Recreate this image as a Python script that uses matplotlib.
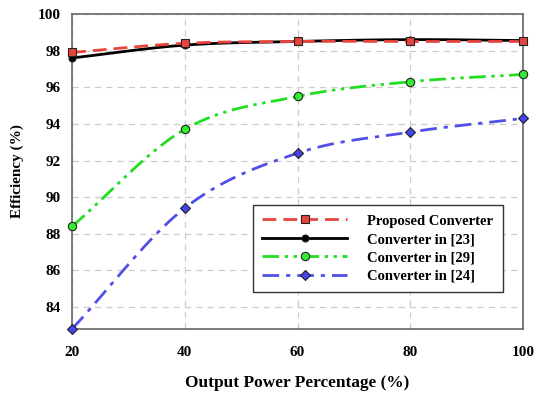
import numpy as np
import matplotlib
matplotlib.use("Agg")
import matplotlib.pyplot as plt
from matplotlib.lines import Line2D

power_pct = [20, 40, 60, 80, 100]
proposed = [97.9, 98.4, 98.5, 98.5, 98.5]
conv_23 = [97.6, 98.3, 98.5, 98.6, 98.55]
conv_29 = [88.4, 93.7, 95.5, 96.3, 96.7]
conv_24 = [82.8, 89.4, 92.4, 93.55, 94.3]

series_labels = ["Proposed Converter", "Converter in [23]",
                 "Converter in [29]", "Converter in [24]"]

plt.rcParams["font.family"] = ["Liberation Serif", "DejaVu Serif"]
plt.rcParams["font.weight"] = "bold"


def smooth_path(x, y, n=30):
    """Catmull-Rom curve through the given points (smoothed line style)."""
    x = np.asarray(x, float)
    y = np.asarray(y, float)
    px = np.concatenate([[2 * x[0] - x[1]], x, [2 * x[-1] - x[-2]]])
    py = np.concatenate([[2 * y[0] - y[1]], y, [2 * y[-1] - y[-2]]])
    xs, ys = [], []
    t = np.linspace(0, 1, n, endpoint=False)
    for i in range(1, len(px) - 2):
        p0x, p1x, p2x, p3x = px[i - 1:i + 3]
        p0y, p1y, p2y, p3y = py[i - 1:i + 3]
        for arr, a, b, c, d in ((xs, p0x, p1x, p2x, p3x), (ys, p0y, p1y, p2y, p3y)):
            arr.extend(0.5 * ((2 * b) + (-a + c) * t
                              + (2 * a - 5 * b + 4 * c - d) * t ** 2
                              + (-a + 3 * b - 3 * c + d) * t ** 3))
    xs.append(x[-1])
    ys.append(y[-1])
    return np.array(xs), np.array(ys)


fig = plt.figure(figsize=(5.35, 3.94), dpi=100)
ax = fig.add_axes([0.1346, 0.165, 0.843, 0.7995])

styles = [
    dict(color="#e8443f", ls=(0, (5, 2.5)), marker="s", mfc="#e8443f", ms=5.5, z=6),
    dict(color="#000000", ls="-", marker="o", mfc="#000000", ms=5, z=4),
    dict(color="#22dd22", ls=(0, (6, 2, 1.2, 2, 1.2, 2)), marker="o", mfc="#33ee33", ms=6, z=3),
    dict(color="#5050e6", ls=(0, (6, 2.5, 1.5, 2.5)), marker="D", mfc="#4444ee", ms=5, z=3),
]

handles = []
for vals, st, lab in zip([proposed, conv_23, conv_29, conv_24], styles, series_labels):
    sx, sy = smooth_path(power_pct, vals)
    ax.plot(sx, sy, color=st["color"], ls=st["ls"], lw=2.0, zorder=st["z"], clip_on=False)
    ax.plot(power_pct, vals, ls="none", marker=st["marker"], ms=st["ms"],
            mfc=st["mfc"], mec="#222222", mew=0.8, zorder=st["z"] + 0.5, clip_on=False)
    handles.append(Line2D([], [], color=st["color"], ls=st["ls"], lw=2.0,
                          marker=st["marker"], ms=st["ms"], mfc=st["mfc"],
                          mec="#222222", mew=0.8))

ax.set_xlim(20, 100)
ax.set_ylim(82.8, 100)
ax.set_xticks(power_pct)
ax.set_yticks(np.arange(84, 101, 2))
ax.grid(True, color="#cccccc", ls=(0, (5, 4)), lw=0.9)
ax.set_axisbelow(True)

for s in ax.spines.values():
    s.set_color("#666666")
    s.set_linewidth(1.2)
ax.tick_params(axis="both", length=0, labelsize=11)
ax.tick_params(axis="x", pad=12)
ax.tick_params(axis="y", pad=8)
for lab in ax.get_xticklabels() + ax.get_yticklabels():
    lab.set_fontweight("bold")

ax.set_xlabel("Output Power Percentage (%)", fontsize=12.4, fontweight="bold", labelpad=12)
ax.set_ylabel("Efficiency (%)", fontsize=11, fontweight="bold", labelpad=10)

leg = ax.legend(handles, series_labels, loc="upper left",
                bbox_to_anchor=(0.401, 0.394), fontsize=10.5, frameon=True,
                fancybox=False, edgecolor="#333333", framealpha=1,
                handlelength=5.8, labelspacing=0.36, borderpad=0.65,
                handletextpad=1.4, borderaxespad=0,
                prop=dict(weight="bold", size=10.5))
leg.get_frame().set_linewidth(1.0)
leg.set_zorder(10)

fig.savefig("out.png", dpi=100)
